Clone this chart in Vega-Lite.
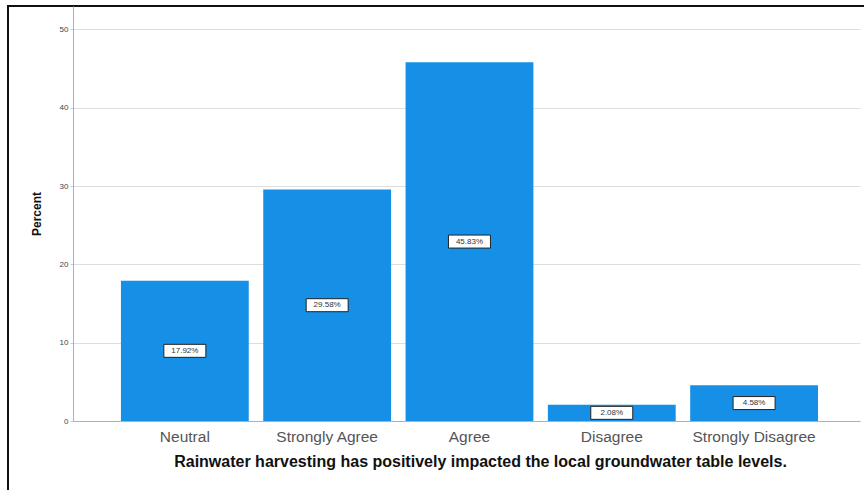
{
  "$schema": "https://vega.github.io/schema/vega-lite/v6.json",
  "width": 860,
  "height": 488,
  "autosize": {"type": "none"},
  "padding": {"left": 8, "top": 6, "right": -4, "bottom": -4},
  "background": "white",
  "config": {
    "font": "Liberation Sans",
    "view": {"stroke": "#111111", "strokeWidth": 2}
  },
  "data": {
    "values": [
      {"response": "Neutral", "pct": 17.92, "label": "17.92%"},
      {"response": "Strongly Agree", "pct": 29.58, "label": "29.58%"},
      {"response": "Agree", "pct": 45.83, "label": "45.83%"},
      {"response": "Disagree", "pct": 2.08, "label": "2.08%"},
      {"response": "Strongly Disagree", "pct": 4.58, "label": "4.58%"}
    ]
  },
  "transform": [{"calculate": "datum.pct / 2", "as": "mid"}],
  "encoding": {
    "x": {
      "field": "response",
      "type": "nominal",
      "sort": null,
      "scale": {"range": [65, 852], "paddingInner": 0.1018, "paddingOuter": 0.316, "align": 0.533},
      "axis": {
        "title": "Rainwater harvesting has positively impacted the local groundwater table levels.",
        "titleFont": "Liberation Sans",
        "titleFontSize": 16,
        "titleFontWeight": "bold",
        "titleColor": "#111111",
        "titlePadding": 9,
        "titleX": 472,
        "labelAngle": 0,
        "labelFontSize": 15.5,
        "labelColor": "#555555",
        "labelPadding": 8,
        "ticks": false,
        "domainColor": "#b0b0b0",
        "domainWidth": 1,
        "grid": false,
        "offset": -73
      }
    },
    "y": {
      "field": "pct",
      "type": "quantitative",
      "title": "Percent",
      "scale": {"domain": [0, 53], "range": [415, 0], "nice": false, "zero": true},
      "axis": {
        "titleFontSize": 12,
        "titleFontWeight": "bold",
        "titleColor": "#111111",
        "titlePadding": 16,
        "values": [0, 10, 20, 30, 40, 50],
        "labelFontSize": 8,
        "labelColor": "#444444",
        "labelPadding": 2,
        "tickSize": 3,
        "tickColor": "#c8c8c8",
        "domainColor": "#b0b0b0",
        "gridColor": "#dedede",
        "gridWidth": 1,
        "offset": -65
      }
    }
  },
  "layer": [
    {
      "mark": {"type": "bar", "color": "#1590e6"}
    },
    {
      "mark": {"type": "rect", "width": 42, "height": 13, "fill": "white", "stroke": "#222222", "strokeWidth": 1},
      "encoding": {
        "y": {"field": "mid", "type": "quantitative", "title": "Percent"}
      }
    },
    {
      "mark": {"type": "text", "fontSize": 8, "color": "#333333", "baseline": "middle", "align": "center"},
      "encoding": {
        "y": {"field": "mid", "type": "quantitative", "title": "Percent"},
        "text": {"field": "label"}
      }
    }
  ]
}
